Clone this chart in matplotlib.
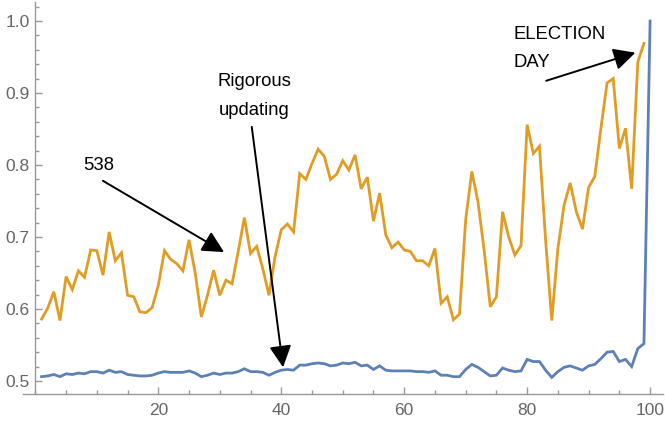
import numpy as np
import matplotlib
matplotlib.use('Agg')
import matplotlib.pyplot as plt
from matplotlib.ticker import MultipleLocator

plt.rcParams['font.family'] = ['Liberation Sans', 'DejaVu Sans']

# 538 forecast (orange), days 1..99
fivethirtyeight = [
    0.586, 0.601, 0.624, 0.584, 0.645, 0.627, 0.653, 0.644, 0.682, 0.681,
    0.647, 0.707, 0.667, 0.678, 0.619, 0.617, 0.596, 0.595, 0.602, 0.633,
    0.681, 0.669, 0.663, 0.653, 0.696, 0.650, 0.589, 0.619, 0.654, 0.619,
    0.640, 0.635, 0.680, 0.727, 0.677, 0.687, 0.656, 0.619, 0.673, 0.710,
    0.718, 0.707, 0.788, 0.780, 0.802, 0.822, 0.812, 0.780, 0.787, 0.806,
    0.793, 0.814, 0.767, 0.783, 0.722, 0.761, 0.703, 0.685, 0.693, 0.682,
    0.680, 0.667, 0.667, 0.660, 0.684, 0.608, 0.617, 0.585, 0.593, 0.724,
    0.791, 0.749, 0.682, 0.603, 0.617, 0.735, 0.700, 0.675, 0.688, 0.856,
    0.816, 0.826, 0.696, 0.584, 0.684, 0.744, 0.775, 0.735, 0.711, 0.769,
    0.784, 0.851, 0.914, 0.920, 0.823, 0.851, 0.767, 0.943, 0.969,
]

# rigorous updating (blue), days 1..100
rigorous = [
    0.506, 0.507, 0.509, 0.506, 0.510, 0.509, 0.511, 0.510, 0.513, 0.513,
    0.511, 0.515, 0.512, 0.513, 0.509, 0.508, 0.507, 0.507, 0.508, 0.511,
    0.513, 0.512, 0.512, 0.512, 0.514, 0.511, 0.506, 0.508, 0.511, 0.509,
    0.511, 0.511, 0.513, 0.517, 0.513, 0.513, 0.512, 0.508, 0.512, 0.515,
    0.516, 0.515, 0.522, 0.522, 0.524, 0.525, 0.524, 0.521, 0.522, 0.525,
    0.524, 0.526, 0.521, 0.522, 0.516, 0.521, 0.515, 0.514, 0.514, 0.514,
    0.514, 0.513, 0.513, 0.512, 0.514, 0.508, 0.508, 0.506, 0.506, 0.516,
    0.523, 0.519, 0.513, 0.507, 0.508, 0.518, 0.515, 0.513, 0.514, 0.530,
    0.527, 0.527, 0.515, 0.505, 0.513, 0.519, 0.521, 0.518, 0.515, 0.521,
    0.523, 0.531, 0.540, 0.541, 0.527, 0.530, 0.520, 0.545, 0.552, 1.000,
]

days_538 = np.arange(1, len(fivethirtyeight) + 1)
days_rig = np.arange(1, len(rigorous) + 1)

fig = plt.figure(figsize=(6.65, 4.26), dpi=100)
ax = fig.add_axes([0.0347, 0.0744, 0.9623, 0.9209])

ax.plot(days_538, fivethirtyeight, color='#E19C24', lw=2.0, solid_joinstyle='miter')
ax.plot(days_rig, rigorous, color='#5E81B5', lw=2.0, solid_joinstyle='miter')

ax.set_xlim(-2.0, 102.1)
ax.set_ylim(0.4815, 1.0264)

# Mathematica-like axes
for s in ['top', 'right']:
    ax.spines[s].set_visible(False)
ax.spines['left'].set_position(('data', 0))
for s in ['left', 'bottom']:
    ax.spines[s].set_color('#999999')
    ax.spines[s].set_linewidth(1.0)

ax.xaxis.set_major_locator(MultipleLocator(20))
ax.xaxis.set_minor_locator(MultipleLocator(5))
ax.yaxis.set_major_locator(MultipleLocator(0.1))
ax.yaxis.set_minor_locator(MultipleLocator(0.02))
ax.set_xticks([20, 40, 60, 80, 100])
ax.set_yticks([0.5, 0.6, 0.7, 0.8, 0.9, 1.0])
ax.set_yticklabels(['0.5', '0.6', '0.7', '0.8', '0.9', '1.0'])

ax.tick_params(which='both', direction='in', color='#999999', width=1.0,
               labelcolor='#666666', labelsize=12.5)
ax.tick_params(which='major', length=5)
ax.tick_params(which='minor', length=3)
ax.tick_params(axis='x', pad=6)
ax.tick_params(axis='y', pad=4)

arrow = dict(arrowstyle='-|>,head_length=0.55,head_width=0.28', color='black',
             lw=1.4, shrinkA=0, shrinkB=0, mutation_scale=24)

ax.annotate('', xy=(30.7, 0.679), xytext=(11.0, 0.778), arrowprops=arrow)
ax.text(10.27, 0.799, '538', fontsize=13.3, ha='center', va='center')

ax.annotate('', xy=(40.3, 0.519), xytext=(35.2, 0.853), arrowprops=arrow)
ax.text(35.6, 0.910, 'Rigorous', fontsize=13.3, ha='center', va='baseline')
ax.text(35.6, 0.869, 'updating', fontsize=13.3, ha='center', va='baseline')

ax.annotate('', xy=(97.6, 0.956), xytext=(83.1, 0.917), arrowprops=arrow)
ax.text(77.7, 0.975, 'ELECTION', fontsize=13.3, ha='left', va='baseline')
ax.text(77.7, 0.936, 'DAY', fontsize=13.3, ha='left', va='baseline')

fig.savefig('out.png', dpi=100)
